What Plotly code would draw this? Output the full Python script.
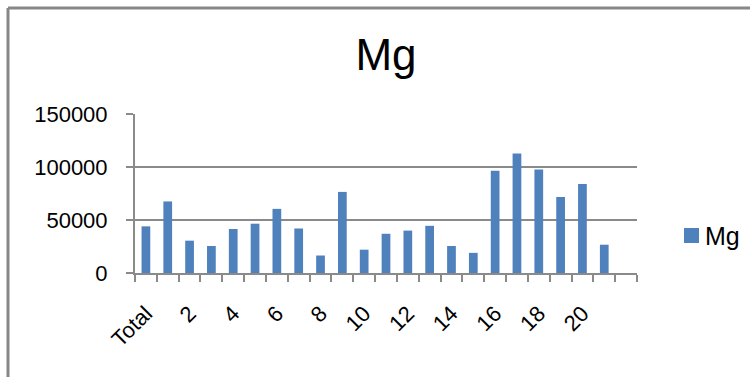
import plotly.graph_objects as go

# Mg content per sample (Total followed by samples 1..21)
categories = ["Total"] + [str(i) for i in range(1, 22)]
mg_values = [44000, 67500, 30500, 25500, 41500, 46500, 60500, 42000, 16500, 76500,
             22000, 37000, 40000, 44500, 25500, 19000, 96500, 112800, 97700, 71700,
             84000, 26700]
tick_labels = ["Total", "2", "4", "6", "8", "10", "12", "14", "16", "18", "20"]
y_ticks = [0, 50000, 100000, 150000]
series_name = "Mg"

W, H = 750, 377
ML, MR, MT, MB = 135, 113, 114, 104
PW, PH = W - ML - MR, H - MT - MB

FONT = "Liberation Sans, Arial, sans-serif"
GRID = "#8a8a8a"
BAR = "#4F81BD"

x_idx = list(range(len(categories)))
label_pos = [categories.index(t) for t in tick_labels]

fig = go.Figure()
fig.add_trace(go.Bar(
    x=x_idx, y=mg_values, name=series_name, width=0.4,
    marker=dict(color=BAR, line=dict(width=0)),
    customdata=categories, showlegend=False,
    hovertemplate="%{customdata}: %{y}<extra></extra>",
))


def px_x(p):
    return (p - ML) / PW


def px_y(p):
    return (H - MB - p) / PH


# chart-area frame (left and top edges)
fig.add_shape(type="line", xref="paper", yref="paper",
              x0=px_x(8), x1=px_x(8), y0=px_y(8), y1=px_y(H + 5),
              line=dict(color="#878787", width=3))
fig.add_shape(type="line", xref="paper", yref="paper",
              x0=px_x(8), x1=px_x(W + 5), y0=px_y(8), y1=px_y(8),
              line=dict(color="#878787", width=3))

# series key to the right of the plot
fig.add_shape(type="rect", xref="paper", yref="paper",
              x0=px_x(684), x1=px_x(699), y0=px_y(243), y1=px_y(228),
              fillcolor=BAR, line=dict(width=0))
fig.add_annotation(text=series_name, xref="paper", yref="paper",
                   x=px_x(703), y=px_y(235.5), xanchor="left", yanchor="middle",
                   showarrow=False,
                   font=dict(family=FONT, size=25, color="#000000"))

fig.update_layout(
    width=W, height=H,
    margin=dict(l=ML, r=MR, t=MT, b=MB, pad=0),
    paper_bgcolor="white", plot_bgcolor="white",
    font=dict(family=FONT, size=21, color="#000000"),
    title=dict(text="Mg", x=(ML + PW / 2) / W, xanchor="center",
               y=1 - 55 / H, yanchor="middle",
               font=dict(family=FONT, size=44, color="#000000")),
    showlegend=False,
    bargap=0.6,
)

fig.update_xaxes(
    range=[-0.5, len(categories) + 0.5],
    tickmode="array", tickvals=label_pos, ticktext=tick_labels,
    tickangle=-45, ticks="", ticklen=0, ticklabelstandoff=17,
    showgrid=False, zeroline=False,
    showline=True, linecolor=GRID, linewidth=2,
    tickfont=dict(family=FONT, size=22),
    minor=dict(tick0=-0.5, dtick=1, ticks="outside", ticklen=7,
               tickcolor=GRID, tickwidth=2, showgrid=False),
)
fig.update_yaxes(
    range=[0, 150000], tickmode="array", tickvals=y_ticks,
    tickformat="d", ticks="outside", ticklen=7, tickcolor=GRID, tickwidth=2,
    ticklabelstandoff=14,
    showgrid=True, gridcolor=GRID, gridwidth=2,
    zeroline=False, showline=True, linecolor=GRID, linewidth=2,
    tickfont=dict(family=FONT, size=22),
)

fig.write_html("out.html")
